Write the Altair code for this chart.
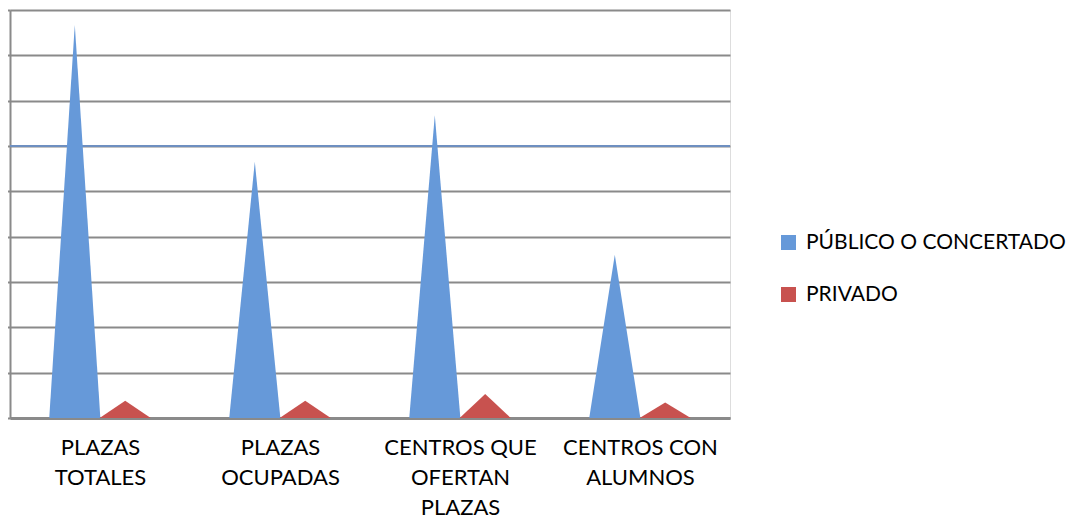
import altair as alt
import pandas as pd

# ---- data ----
category_lines = [
    ["PLAZAS", "TOTALES"],
    ["PLAZAS", "OCUPADAS"],
    ["CENTROS QUE", "OFERTAN", "PLAZAS"],
    ["CENTROS CON", "ALUMNOS"],
]
series_names = ["PÚBLICO O CONCERTADO", "PRIVADO"]
publico = [8.67, 5.65, 6.68, 3.60]
privado = [0.38, 0.38, 0.53, 0.34]
grid_values = list(range(0, 10))
highlight_grid = [6]

colors = ["#6699D9", "#C8524F"]
FONT = "Lato"

# ---- build triangle table (cone chart look) ----
offsets = {series_names[0]: -0.14, series_names[1]: 0.14}
half_w = 0.142
rows = []
for i in range(len(category_lines)):
    for s, vals in zip(series_names, [publico, privado]):
        c = i + 0.5 + offsets[s]
        key = f"{i}-{s}"
        rows.append({"x": c - half_w, "y": 0, "serie": s, "key": key})
        rows.append({"x": c, "y": vals[i], "serie": s, "key": key})
        rows.append({"x": c + half_w, "y": 0, "serie": s, "key": key})
tri = pd.DataFrame(rows)

centers = [i + 0.5 for i in range(len(category_lines))]
label_expr = " : ".join(
    f"datum.value == {c} ? {lines!r}" for c, lines in zip(centers, category_lines)
) + " : ''"

x_scale = alt.Scale(domain=[0, len(category_lines)], nice=False, zero=False)
y_scale = alt.Scale(domain=[0, 9], nice=False)

hl = alt.Chart(pd.DataFrame({"g": highlight_grid})).mark_rule(
    color="#6E8FC0", strokeWidth=2
).encode(y=alt.Y("g:Q", scale=y_scale))

areas = alt.Chart(tri).mark_area(interpolate="linear").encode(
    x=alt.X(
        "x:Q",
        scale=x_scale,
        axis=alt.Axis(
            values=centers,
            labelExpr=label_expr,
            title=None,
            grid=False,
            ticks=False,
            domain=True,
            domainColor="#8A8A8A",
            domainWidth=3,
            labelFont=FONT,
            labelFontSize=22,
            labelColor="#000000",
            labelLineHeight=30,
            labelPadding=19,
            labelBaseline="top",
        ),
    ),
    y=alt.Y(
        "y:Q",
        scale=y_scale,
        stack=None,
        axis=alt.Axis(
            values=grid_values,
            labels=False,
            title=None,
            grid=True,
            gridColor="#8A8A8A",
            gridWidth=2,
            domain=True,
            domainColor="#8A8A8A",
            domainWidth=2,
            ticks=True,
            tickSize=4,
            tickColor="#8A8A8A",
            tickWidth=2,
        ),
    ),
    color=alt.Color(
        "serie:N",
        scale=alt.Scale(domain=series_names, range=colors),
        legend=alt.Legend(
            title=None,
            orient="none",
            legendX=768,
            legendY=222,
            symbolType="square",
            symbolSize=225,
            symbolStrokeWidth=0,
            labelFont=FONT,
            labelFontSize=21,
            labelColor="#000000",
            labelOffset=7,
            labelLimit=0,
            rowPadding=30,
        ),
    ),
    detail="key:N",
)

chart = (
    alt.layer(hl, areas)
    .properties(
        width=720,
        height=408,
        autosize=alt.AutoSizeParams(type="none"),
        padding={"left": 2, "top": 2, "right": 348, "bottom": 102},
    )
    .configure_view(stroke=None)
    .configure(background="white")
)

chart.save("out.html", embed_options={"renderer": "svg", "actions": False})
